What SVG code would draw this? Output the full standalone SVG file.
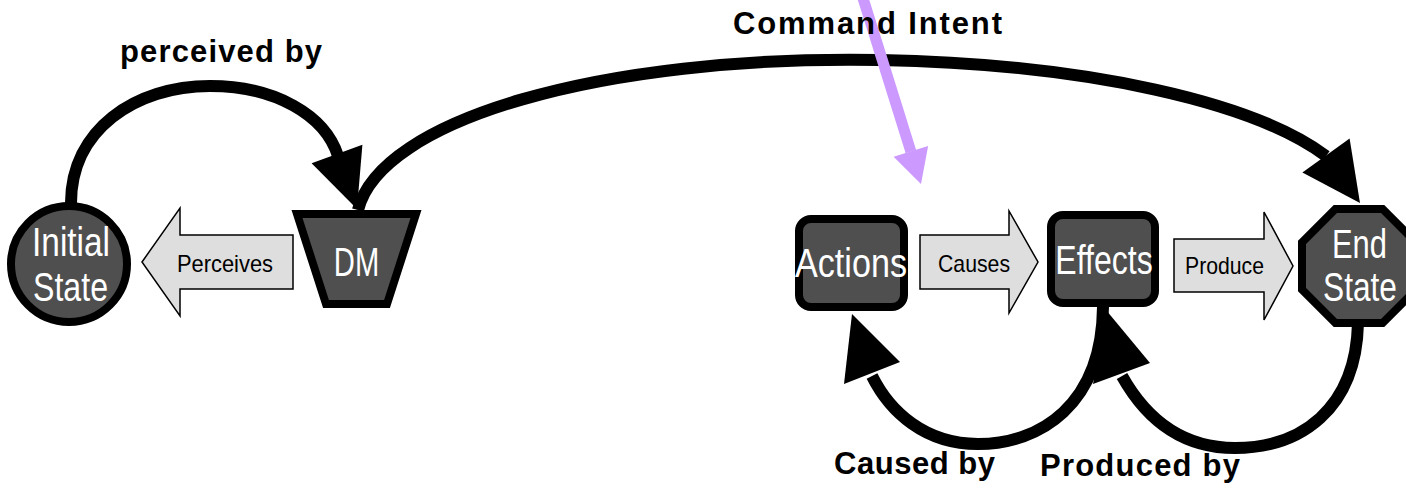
<svg xmlns="http://www.w3.org/2000/svg" width="1406" height="493" viewBox="0 0 1406 493">
  <style>
    .node { fill: #4f4f4f; stroke: #000; stroke-width: 8; stroke-linejoin: miter; }
    .flow { fill: #dedede; stroke: #000; stroke-width: 1.5; stroke-linejoin: miter; }
    .node-label { font-family: "Liberation Sans", Arial, sans-serif; font-size: 40px; fill: #fff; text-anchor: middle; }
    .flow-label { font-family: "Liberation Sans", Arial, sans-serif; font-size: 24px; fill: #000; }
    .edge-label { font-family: "Liberation Sans", Arial, sans-serif; font-size: 31px; font-weight: bold; fill: #000; }
    .link { fill: none; stroke: #000; stroke-width: 12; }
    .head { fill: #000; }
    .intent { fill: none; stroke: #cc99ff; stroke-width: 11; }
    .intent-head { fill: #cc99ff; }
  </style>

  <!-- connectors -->
  <g id="connectors">
    <!-- Initial State to DM -->
    <path class="link" d="M71,203 C71,130 135,86 210,86 C275,86 325,115 338,156"/>
    <polygon class="head" points="357,209 311.6,163.2 362.4,144.8"/>
    <!-- DM to End State -->
    <path class="link" d="M358,210 C380,120 600,55 880,60 C1090,64 1255,103 1326,156"/>
    <polygon class="head" points="1360,203 1302.4,172.4 1349.6,138.6"/>
    <!-- Effects back to Actions -->
    <path class="link" d="M1103,307 C1102,405 1040,444 978,444 C925,444 890,412 872,376"/>
    <polygon class="head" points="852,314 844,384 900,362"/>
    <!-- End State back to Effects -->
    <path class="link" d="M1358,323 C1356,410 1300,448 1235,448 C1180,448 1145,417 1122,376"/>
    <polygon class="head" points="1106,310 1093,384 1150,363"/>
    <!-- command intent -->
    <path class="intent" d="M862,-5 L910.9,151.7"/>
    <polygon class="intent-head" points="921,184 893.6,156.8 928.1,146.1"/>
  </g>

  <!-- edge labels -->
  <g id="labels">
    <text class="edge-label" x="120" y="62" textLength="202" lengthAdjust="spacing">perceived by</text>
    <text class="edge-label" x="733" y="34" textLength="269" lengthAdjust="spacing">Command Intent</text>
    <text class="edge-label" x="834" y="474" textLength="161" lengthAdjust="spacing">Caused by</text>
    <text class="edge-label" x="1040" y="476" textLength="200" lengthAdjust="spacing">Produced by</text>
  </g>

  <!-- node labels use a horizontally condensed face -->
  <g id="initial-state">
    <circle class="node" cx="69" cy="264" r="58"/>
    <text class="node-label" transform="translate(71,256) scale(0.835,1)">Initial</text>
    <text class="node-label" transform="translate(70.5,301) scale(0.803,1)">State</text>
  </g>

  <g id="perceives">
    <polygon class="flow" points="142,262 180,208 180,235 293,235 293,289 180,289 180,316"/>
    <text class="flow-label" x="177" y="272" textLength="96" lengthAdjust="spacingAndGlyphs">Perceives</text>
  </g>

  <g id="dm">
    <polygon class="node" points="297,214 416,214 387,304 326,304"/>
    <text class="node-label" transform="translate(356.5,276) scale(0.73,1)">DM</text>
  </g>

  <g id="actions">
    <rect class="node" x="799" y="219" width="105" height="88" rx="12"/>
    <text class="node-label" transform="translate(851,277) scale(0.854,1)">Actions</text>
  </g>

  <g id="causes">
    <polygon class="flow" points="920,235 1009,235 1009,211 1038,262 1009,313 1009,289 920,289"/>
    <text class="flow-label" x="938" y="272" textLength="72" lengthAdjust="spacingAndGlyphs">Causes</text>
  </g>

  <g id="effects">
    <rect class="node" x="1051" y="215" width="104" height="88" rx="12"/>
    <text class="node-label" transform="translate(1104,274) scale(0.801,1)">Effects</text>
  </g>

  <g id="produce">
    <polygon class="flow" points="1174,239 1264,239 1264,212 1293,266 1264,320 1264,292 1174,292"/>
    <text class="flow-label" x="1185" y="274" textLength="79" lengthAdjust="spacingAndGlyphs">Produce</text>
  </g>

  <g id="end-state">
    <polygon class="node" points="1335.4,209 1382.6,209 1416,242.4 1416,289.6 1382.6,323 1335.4,323 1302,289.6 1302,242.4"/>
    <text class="node-label" transform="translate(1359.5,258) scale(0.773,1)">End</text>
    <text class="node-label" transform="translate(1360,301) scale(0.792,1)">State</text>
  </g>
</svg>
